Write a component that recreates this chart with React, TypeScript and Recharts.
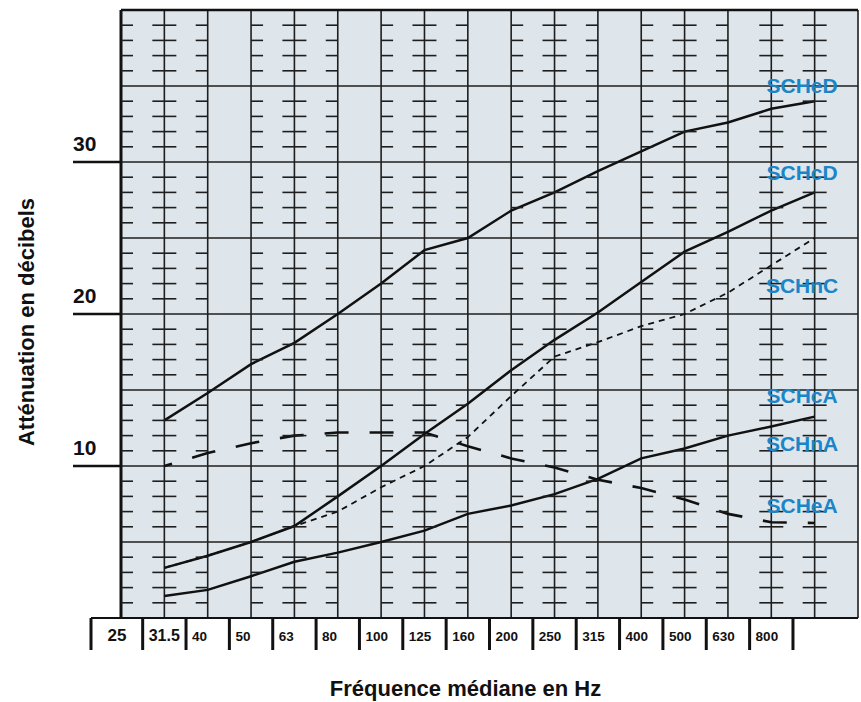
import React from 'react';
import {
  ComposedChart, Line, Scatter, XAxis, YAxis, CartesianGrid, ReferenceLine, Label,
} from 'recharts';

// ---------- data ----------
const FREQS = ['25', '31.5', '40', '50', '63', '80', '100', '125', '160', '200', '250', '315', '400', '500', '630', '800', '1000'];
const LABELED_COUNT = 16; // 25 .. 800 are written under the axis

// series values (dB) from 31.5 Hz (index 1) to 1000 Hz (index 16)
const SCHeD = [13.0, 14.8, 16.7, 18.1, 20.0, 22.0, 24.2, 25.0, 26.8, 28.0, 29.4, 30.7, 32.0, 32.6, 33.5, 34.0];
const SCHcD = [3.3, 4.1, 5.0, 6.05, 8.0, 10.0, 12.1, 14.1, 16.3, 18.3, 20.1, 22.1, 24.1, 25.4, 26.8, 28.0];
const SCHnC = [3.3, 4.1, 5.0, 6.05, 7.0, 8.6, 10.0, 11.9, 14.6, 17.2, 18.15, 19.2, 20.0, 21.4, 23.2, 25.0];
const SCHcA_nA = [1.45, 1.85, 2.75, 3.7, 4.3, 5.0, 5.75, 6.85, 7.4, 8.15, 9.15, 10.5, 11.15, 12.0, 12.6, 13.25];
const SCHeA = [10.0, 10.85, 11.5, 12.0, 12.2, 12.2, 12.2, 11.3, 10.5, 9.9, 9.1, 8.55, 7.8, 6.85, 6.3, 6.25];

const LABEL_NAMES = ['SCHeD', 'SCHcD', 'SCHnC', 'SCHcA', 'SCHnA', 'SCHeA'];
const LABEL_LEVELS = [35.05, 29.3, 21.85, 14.67, 11.45, 7.37];

const Y_TICKS = [0, 5, 10, 15, 20, 25, 30, 35, 40];
const Y_LABELED = [10, 20, 30];

// ---------- layout ----------
const WIDTH = 861;
const HEIGHT = 702;
const MARGIN = { top: 10, right: 3, bottom: 0, left: 0 };
const Y_AXIS_W = 121;
const X_AXIS_H = 84;
const X_SLOTS = FREQS.length; // 17 columns, last line is the right border
const STEP = (WIDTH - MARGIN.left - MARGIN.right - Y_AXIS_W) / X_SLOTS;
const LABEL_X = 15.71;

const FONT = "'Liberation Sans', Arial, Helvetica, sans-serif";
const INK = '#111';
const GRID = '#1e1e1e';
const BG = '#dee6ec';
const BLUE = '#1a85c7';

const toSeries = (vals: number[]) => vals.map((v, i) => ({ x: i + 1, y: v }));

// grid minor tick layout: r = right half, f = full cross, l = left half
const MINOR_COLS: [number, string][] = [
  [0, 'r'], [1, 'f'], [2, 'l'], [3, 'r'], [4, 'f'], [5, 'l'], [6, 'r'], [7, 'f'], [8, 'l'],
  [9, 'r'], [10, 'f'], [11, 'l'], [12, 'r'], [13, 'f'], [14, 'l'], [15, 'f'], [16, 'f'],
];
const MINOR_ROWS: number[] = [];
for (let v = 1; v < 40; v++) if (v % 5 !== 0) MINOR_ROWS.push(v);
const MINOR_TICKS = MINOR_ROWS.flatMap((r) => MINOR_COLS.map(([c, k]) => ({ x: c, y: r, k })));

const LABEL_POINTS = LABEL_NAMES.map((n, i) => ({ x: LABEL_X, y: LABEL_LEVELS[i], n }));
const X_TICKS = Array.from({ length: X_SLOTS + 1 }, (_, i) => i);

const MinorTick = (props: any) => {
  const { cx, cy, payload } = props;
  const half = 12;
  const x1 = payload.k === 'r' ? cx : cx - half;
  const x2 = payload.k === 'l' ? cx : cx + half;
  return <line x1={x1} x2={x2} y1={cy} y2={cy} stroke={GRID} strokeWidth={1.6} />;
};

const SeriesLabel = (props: any) => {
  const { cx, cy, payload } = props;
  return (
    <text x={cx} y={cy} textAnchor="middle" dominantBaseline="central" fill={BLUE}
      fontFamily={FONT} fontWeight="bold" fontSize={21}>
      {payload.n}
    </text>
  );
};

const XTick = (props: any) => {
  const { x, y, payload } = props;
  const i = payload.value as number;
  if (i >= X_SLOTS) return null;
  const sep = i === 0 ? x - 30 : x - STEP / 2;
  const sizes = [17, 16];
  return (
    <g>
      {i === 0 && <line x1={sep} x2={x} y1={y} y2={y} stroke={INK} strokeWidth={2} />}
      <line x1={sep} x2={sep} y1={y} y2={y + 32} stroke={INK} strokeWidth={3} />
      {i < LABELED_COUNT && (
        <text
          x={i === 0 ? x - 4 : sep + 6}
          y={y + 23}
          textAnchor={i === 0 ? 'middle' : 'start'}
          fontFamily={FONT}
          fontWeight="bold"
          fontSize={sizes[i] ?? 13.5}
          fill={INK}
        >
          {FREQS[i]}
        </text>
      )}
    </g>
  );
};

const YTick = (props: any) => {
  const { x, y, payload } = props;
  const v = payload.value as number;
  if (!Y_LABELED.includes(v)) return null;
  return (
    <g>
      <line x1={x - 48} x2={x} y1={y} y2={y} stroke={INK} strokeWidth={2.5} />
      <text x={x - 48} y={y - 11} textAnchor="start" fontFamily={FONT} fontWeight="bold" fontSize={21} fill={INK}>
        {v}
      </text>
    </g>
  );
};

const XTitle = (props: any) => {
  const vb = props.viewBox || { x: 121, y: 618, width: 737, height: 84 };
  return (
    <text x={vb.x + vb.width / 2 - 24} y={vb.y + 78} textAnchor="middle" fontFamily={FONT}
      fontWeight="bold" fontSize={22} fill={INK}>
      Fréquence médiane en Hz
    </text>
  );
};

const YTitle = (props: any) => {
  const vb = props.viewBox || { x: 0, y: 10, width: 121, height: 608 };
  const cx = 34;
  const cy = vb.y + vb.height / 2 + 8;
  return (
    <text x={cx} y={cy} transform={`rotate(-90, ${cx}, ${cy})`} textAnchor="middle" fontFamily={FONT}
      fontWeight="bold" fontSize={22} fill={INK}>
      Atténuation en décibels
    </text>
  );
};

export default function App() {
  return (
    <div style={{ position: 'absolute', left: 0, top: 0, width: WIDTH, height: HEIGHT, background: '#fff' }}>
      <ComposedChart width={WIDTH} height={HEIGHT} margin={MARGIN}>
        <CartesianGrid stroke={GRID} strokeWidth={1.6} fill={BG} fillOpacity={1} />
        <XAxis
          type="number"
          dataKey="x"
          domain={[0, X_SLOTS]}
          ticks={X_TICKS}
          interval={0}
          height={X_AXIS_H}
          tickSize={0}
          tickMargin={0}
          tickLine={false}
          axisLine={{ stroke: INK, strokeWidth: 2 }}
          tick={<XTick />}
          allowDataOverflow
        >
          <Label content={<XTitle />} />
        </XAxis>
        <YAxis
          type="number"
          domain={[0, 40]}
          ticks={Y_TICKS}
          interval={0}
          width={Y_AXIS_W}
          tickSize={0}
          tickMargin={0}
          tickLine={false}
          axisLine={{ stroke: INK, strokeWidth: 3 }}
          tick={<YTick />}
          allowDataOverflow
        >
          <Label content={<YTitle />} />
        </YAxis>
        <ReferenceLine y={40} stroke={INK} strokeWidth={2.5} />
        <Scatter data={MINOR_TICKS} dataKey="y" shape={<MinorTick />} isAnimationActive={false} />
        <Line data={toSeries(SCHeD)} dataKey="y" stroke={INK} strokeWidth={2.5} dot={false} isAnimationActive={false} />
        <Line data={toSeries(SCHcD)} dataKey="y" stroke={INK} strokeWidth={2.5} dot={false} isAnimationActive={false} />
        <Line data={toSeries(SCHnC)} dataKey="y" stroke={INK} strokeWidth={1.8} strokeDasharray="6 5" dot={false} isAnimationActive={false} />
        <Line data={toSeries(SCHcA_nA)} dataKey="y" stroke={INK} strokeWidth={2.5} dot={false} isAnimationActive={false} />
        <Line data={toSeries(SCHeA)} dataKey="y" stroke={INK} strokeWidth={2.6} strokeDasharray="24 21" strokeDashoffset={16} dot={false} isAnimationActive={false} />
        <Scatter data={LABEL_POINTS} dataKey="y" shape={<SeriesLabel />} isAnimationActive={false} />
      </ComposedChart>
    </div>
  );
}
